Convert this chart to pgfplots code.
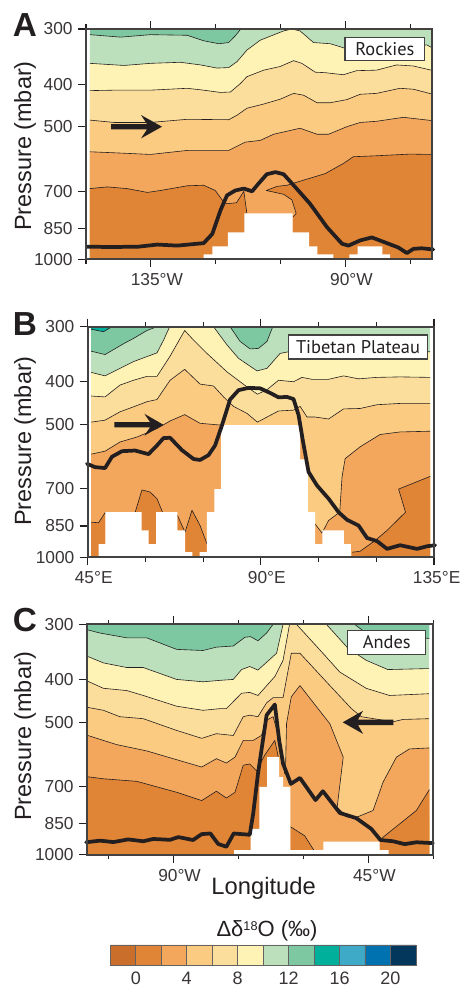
\documentclass[border=0pt]{standalone}
\usepackage{fontspec}
\setmainfont{Liberation Sans}
\newfontfamily\boxfont{PT Sans}
\usepackage{pgfplots}
\pgfplotsset{compat=1.18}
\definecolor{c0}{HTML}{C96E2B}\definecolor{c1}{HTML}{E08435}\definecolor{c2}{HTML}{F3A75D}
\definecolor{c3}{HTML}{FBCB81}\definecolor{c4}{HTML}{FCDE9C}\definecolor{c5}{HTML}{FEF3B5}
\definecolor{c6}{HTML}{BCE0BC}\definecolor{c7}{HTML}{7DC8A0}\definecolor{c8}{HTML}{00B09A}
\definecolor{c9}{HTML}{3FAAC8}\definecolor{c10}{HTML}{0072B0}\definecolor{c11}{HTML}{03375B}
\definecolor{ink}{HTML}{231F20}
\newcommand\band[3]{\addplot[fill=#1,draw=none] coordinates {#2 #3};\addplot[draw=ink,line width=0.45pt,line join=round] coordinates {#2};}
\newcommand\fillonly[2]{\addplot[fill=#1,draw=none] coordinates {#2};}
\newcommand\ticksize{\fontsize{13}{13}\selectfont}
\tikzset{
 thick line/.style={draw=ink,line width=2.8pt,line join=round,line cap=round},
 terrain/.style={fill=white,draw=none}}
\pgfplotsset{
 chartpanel/.style={
  scale only axis,y dir=reverse,ymin=300,ymax=1000,
  ytick={300,400,500,700,850,1000},yticklabels={300,400,500,700,850,1000},
  minor y tick num=0,
  ytick pos=left,xtick pos=both,xticklabel pos=bottom,
  tick align=outside,major tick length=6pt,minor tick length=3.4pt,
  major tick style={draw=ink,line width=0.8pt},
  minor tick style={draw=ink,line width=0.8pt},
  axis line style={draw=ink!85,line width=1.3pt},
  tick label style={font=\ticksize,text=ink!90},
  yticklabel style={xshift=-0.5pt},
  xticklabel style={xshift=4.5pt,yshift=-1pt},
  axis on top,clip=false},
}
\begin{document}
\begin{tikzpicture}
\path[use as bounding box] (0pt,0pt) rectangle (345.75pt,-739.5pt);
% ---------- A
\begin{semilogyaxis}[chartpanel,at={(64.5pt,-21.75pt)},anchor=north west,width=259.5pt,height=172.7pt,
 xmin=-150,xmax=-70,xtick={-135,-90},xticklabels={135°W,90°W},minor xtick={-150,-120,-105,-75}]
\fillonly{c7}{(-149.1,300)(-70.2,300)(-70.2,1000)(-149.1,1000)}
\band{c6}{(-149.1,309)(-142,313)(-135.1,309)(-126.6,310)(-122.8,319)(-119.3,324)(-117,322)(-115.5,311)(-114.2,300)}{(-70.2,300)(-70.2,1000)(-149.1,1000)}
\band{c5}{(-149.1,359)(-141.2,363)(-135.1,359)(-128.2,357)(-123.5,362)(-119.7,368)(-117,367)(-115.1,356)(-112.8,335)(-109.7,318)(-104.3,303)(-102.4,300)(-100.5,303)(-97.4,322)(-93.5,324)(-90,332)(-71.2,326)(-70.2,330)}{(-70.2,1000)(-149.1,1000)}
\band{c4}{(-149.1,414)(-143.5,413)(-135.1,413)(-126.6,409)(-122.8,413)(-118.9,418)(-116.6,417)(-114.3,399)(-112.8,385)(-108.9,372)(-105.1,365)(-102,354)(-100.1,359)(-97,376)(-94.7,377)(-90.5,381)(-87.4,373)(-82.8,372)(-78.2,362)(-74.3,364)(-70.2,372)}{(-70.2,1000)(-149.1,1000)}
\band{c3}{(-149.1,483)(-143.5,489)(-135.1,489)(-126.6,481)(-117,482)(-115.1,471)(-112.8,454)(-108.9,444)(-105.1,433)(-102,420)(-99.7,424)(-96.6,441)(-93.5,441)(-89.7,434)(-86.6,422)(-82.8,420)(-77.4,409)(-74.3,411)(-70.2,421)}{(-70.2,1000)(-149.1,1000)}
\band{c2}{(-149.1,570)(-143.5,573)(-135.1,578)(-126.6,566)(-117,566)(-113.2,542)(-109.7,537)(-106.6,520)(-100.5,504)(-96.6,520)(-93.9,520)(-89.7,500)(-86.6,489)(-82.8,486)(-76.6,476)(-70.2,484)}{(-70.2,1000)(-149.1,1000)}
\band{c1}{(-149.1,691)(-145.1,685)(-140.5,691)(-135.8,705)(-132.8,698)(-126.6,681)(-122.8,679)(-120.1,698)(-118.2,741)(-117.4,748)(-115.2,744)(-113.5,701)(-112.8,787)}{(-112.8,1000)(-149.1,1000)}
\band{c1}{(-102.2,802)(-101.4,787)(-102.4,733)(-104.3,712)(-108.3,698)(-105.8,683)(-103.5,679)(-101.2,668)(-94.7,639)(-90.5,606)(-88.2,585)(-82.8,582)(-75.1,577)(-70.2,578)}{(-70.2,1000)(-102.2,1000)}
\addplot[terrain] coordinates {(-122.8,1000)(-122.8,975)(-120.8,975)(-120.8,935)(-117.2,935)(-117.2,869)(-113.4,869)(-113.4,787)(-102.2,787)(-102.2,869)(-98.4,869)(-98.4,935)(-96.5,935)(-96.5,975)(-92.8,975)(-92.8,1000)};
\addplot[terrain] coordinates {(-89.1,1000)(-89.1,975)(-87.2,975)(-87.2,935)(-81.5,935)(-81.5,975)(-79.7,975)(-79.7,1000)};
\addplot[thick line] coordinates {(-149.8,936)(-144.3,938)(-137.8,936)(-133.5,926)(-128.9,931)(-122.8,919)(-120.8,876)(-118.9,774)(-117.4,716)(-115.5,698)(-113.5,691)(-111.6,701)(-110.1,673)(-108.2,641)(-106.2,634)(-104.3,641)(-102,679)(-98.2,748)(-94.3,845)(-90.8,922)(-89.3,931)(-86.6,906)(-83.9,892)(-81.2,913)(-77.8,940)(-75.8,968)(-74.3,947)(-72.4,944)(-69.7,950)};
\end{semilogyaxis}
% ---------- B
\begin{semilogyaxis}[chartpanel,at={(65.8pt,-245pt)},anchor=north west,width=259.7pt,height=172.8pt,
 xmin=45,xmax=135,xtick={45,90,135},xticklabels={45°E,90°E,\hspace*{-5pt}135°E},minor xtick={60,75,105,120}]
\fillonly{c6}{(45.9,300)(134,300)(134,1000)(45.9,1000)}
\fillonly{c7}{(45.9,300)(45.9,341)(49.5,347)(54.3,328)(56.9,319)(60.4,306)(63,300)}
\addplot[draw=ink,line width=0.45pt] coordinates {(45.9,341)(49.5,347)(54.3,328)(56.9,319)(60.4,306)(63,300)};
\band{c8}{(45.9,304)(49.1,308)(51.3,300)}{(45.9,300)}
\band{c7}{(82,300)(84.6,324)(87.2,337)(89.4,336)(91.6,324)(93.1,300)}{}
\band{c5}{(45.9,381)(49.5,388)(53.4,373)(56.9,360)(63,344)(64.7,322)(66.3,300)(77.7,300)(81.2,330)(84.2,354)(89,378)(91.6,373)(95,345)(97.2,342)(134,342)}{(134,1000)(45.9,1000)}
\band{c4}{(45.9,431)(49.5,433)(53.4,407)(56.9,397)(60.4,389)(63,389)(66.4,350)(70.2,306)(72.1,319)(76,345)(81.2,380)(86.4,411)(89.1,427)(91.6,417)(94.6,397)(98.5,400)(100.7,391)(103.3,395)(107.6,395)(111.5,388)(115.4,394)(120.2,391)(126.2,390)(134,391)}{(134,1000)(45.9,1000)}
\band{c3}{(45.9,494)(49.5,489)(53.4,468)(56.9,456)(60.4,444)(63,439)(66.4,397)(70.2,375)(74.2,405)(77.7,409)(80.3,433)(82.9,455)(86.4,472)(89.1,494)(91.6,481)(94.6,466)(98.5,464)(100.2,455)(102,481)(104.1,481)(107.6,486)(111.5,461)(115.8,460)(120.2,451)(126.2,448)(134,448)}{(134,1000)(45.9,1000)}
\band{c2}{(45.9,584)(49.5,575)(53.4,548)(57.8,534)(63,511)(66.4,491)(70.2,475)(74.2,497)(79.9,502)}{(79.9,1000)(45.9,1000)}
\fillonly{c2}{(100.1,525)(100.9,525)(101.2,600)(100.1,600)}
\band{c2}{(104.1,841)(105.9,882)(107.6,826)(110.5,791)(111.1,658)(111.9,598)(115.8,562)(121,527)(126.2,520)(134,518)}{(134,1000)(104.1,1000)}
\band{c1}{(45.9,833)(47.8,836)(49.6,791)}{(49.6,1000)(45.9,1000)}
\band{c1}{(57.3,793)(59.1,704)(61.2,712)(63,737)(64.5,793)}{(64.5,1000)(57.3,1000)}
\band{c1}{(68.3,804)(70.3,878)(72.1,783)(74.2,848)(76,933)}{(76,1000)(68.3,1000)}
\band{c1}{(113.7,975)(115.8,970)(119.7,917)(122.8,870)(127.6,791)(125.8,701)(134,656)}{(134,1000)(113.7,1000)}
\fillonly{c0}{(117.1,1000)(117.5,992)(119,992)(119.3,1000)}
\addplot[terrain] coordinates {(47.8,1000)(47.8,935)(49.6,935)(49.6,791)(59,791)(59,870)(60.8,870)(60.8,935)(62.8,935)(62.8,791)(68.3,791)(68.3,870)(70.3,870)(70.3,975)(72.2,975)(72.2,1000)};
\addplot[terrain] coordinates {(74.1,1000)(74.1,975)(76,975)(76,791)(77.9,791)(77.9,701)(79.7,701)(79.7,502)(100.2,502)(100.2,600)(102.2,600)(102.2,791)(104.1,791)(104.1,935)(106,935)(106,870)(111.6,870)(111.6,935)(113.4,935)(113.4,1000)};
\addplot[thick line] coordinates {(44.8,614)(46.9,625)(49.5,628)(51.3,592)(53.9,575)(57.3,573)(60.8,584)(63,558)(64.7,537)(66.4,536)(69.5,572)(72.5,599)(74.2,602)(76.4,587)(78.1,558)(79.9,502)(82,439)(84.2,418)(86.8,413)(89.8,414)(92.4,424)(94.6,434)(96.8,433)(98.5,438)(99.8,476)(100.9,543)(102.4,641)(104.6,688)(107.6,737)(110.2,791)(112.4,823)(115.4,848)(117.6,905)(120.2,920)(122.8,958)(126.2,940)(130.6,958)(133.2,945)(135.3,940)};
\end{semilogyaxis}
% ---------- C
\begin{semilogyaxis}[chartpanel,at={(65.25pt,-468.2pt)},anchor=north west,width=259.7pt,height=173pt,
 xmin=-110,xmax=-30,xtick={-90,-45},xticklabels={90°W,45°W},minor xtick={-105,-75,-60,-30}]
\fillonly{c6}{(-109.8,300)(-30.9,300)(-30.9,1000)(-109.8,1000)}
\band{c7}{(-109.8,309)(-107,314)(-100.8,322)(-96.2,322)(-89.3,342)(-83.2,344)(-80.1,338)(-76.2,336)(-73.5,321)(-72.2,320)(-70.5,327)(-68.5,314)(-67,300)}{(-109.8,300)}
\band{c7}{(-48.2,300)(-45.5,314)(-30.9,323)}{(-30.9,300)}
\band{c5}{(-109.8,355)(-106.2,367)(-100.8,376)(-97,376)(-89.3,400)(-83.2,405)(-79.3,402)(-76.2,400)(-74.3,380)(-72.4,374)(-70.5,381)(-66.2,349)(-64.7,300)(-54.7,300)(-49.7,340)(-45.5,362)(-40.5,380)(-31,378)}{(-30.9,1000)(-109.8,1000)}
\band{c4}{(-109.8,404)(-106.2,419)(-100.8,424)(-97,435)(-89.3,460)(-83.2,470)(-79.3,466)(-77.8,466)(-74.3,430)(-72.4,428)(-70.5,435)(-66.6,394)(-64.7,362)(-63.2,300)(-61.6,300)(-55.5,349)(-51.6,385)(-45.5,419)(-40.1,435)(-31,431)}{(-30.9,1000)(-109.8,1000)}
\band{c3}{(-109.8,463)(-106.2,470)(-102.4,486)(-97,491)(-89.3,522)(-83.5,544)(-80.1,531)(-76.2,536)(-73.9,486)(-72.4,482)(-70.5,486)(-68.5,452)(-67,440)(-64.7,440)(-62.8,349)(-60.8,349)(-54.7,405)(-48.9,466)(-46.6,486)(-39.3,499)(-37,493)(-31,491)}{(-30.9,1000)(-109.8,1000)}
\band{c2}{(-109.8,536)(-103.2,562)(-96.2,581)(-90.1,605)(-83.5,632)(-80.1,605)(-77.8,619)(-75.8,600)(-73.9,550)(-71.6,550)(-69.7,536)(-68.5,495)(-67,486)(-65.5,550)(-64.3,655)}{(-64.3,1000)(-109.8,1000)}
\band{c2}{(-64.3,655)(-64.1,621)(-63.9,504)(-62.8,438)(-60.8,413)(-57,461)(-53.9,504)(-50.8,600)(-52.2,779)(-50.1,819)(-48.2,825)(-43.9,793)(-41.6,684)(-38.5,600)(-35.5,575)(-30.9,572)}{(-30.9,1000)(-64.3,1000)}
\band{c1}{(-109.8,665)(-106.2,672)(-98.5,681)(-89.3,721)(-83.5,753)(-80.1,717)(-77.8,743)(-75.8,721)(-73.9,626)(-72.4,622)(-70.8,645)(-68.9,593)(-66.6,550)(-65.8,600)}{(-65.8,1000)(-109.8,1000)}
\band{c1}{(-63,863)(-59.7,905)(-57.6,975)}{(-57.6,1000)(-63,1000)}
\band{c1}{(-42.4,925)(-37.8,851)(-33.9,793)(-30.9,711)}{(-30.9,1000)(-42.4,1000)}
\addplot[terrain] coordinates {(-76,1000)(-76,975)(-72.2,975)(-72.2,873)(-70.2,873)(-70.2,701)(-68.4,701)(-68.4,600)(-65.6,600)(-65.6,666)(-64.7,666)(-64.7,701)(-63,701)(-63,975)(-55.4,975)(-55.4,933)(-42.4,933)(-42.4,975)(-40.3,975)(-40.3,1000)};
\addplot[thick line] coordinates {(-110.2,936)(-107,928)(-103.9,935)(-100.5,922)(-97,931)(-94.7,920)(-90.8,924)(-88.9,911)(-85.5,925)(-83.5,897)(-81.5,894)(-79.7,944)(-77.8,958)(-76.1,894)(-72.4,900)(-71.6,806)(-70.5,655)(-68.5,482)(-66.6,456)(-65.6,550)(-64.7,621)(-62.9,690)(-60.8,669)(-57.2,751)(-55.5,717)(-51.6,803)(-47.8,825)(-44.3,873)(-42.2,925)(-39.3,931)(-36.6,945)(-33.9,936)(-30.1,940)};
\end{semilogyaxis}
% ---------- colour bar
\begin{axis}[scale only axis,at={(82.75pt,-708.7pt)},anchor=north west,width=229.2pt,height=15.5pt,
 xmin=-2,xmax=22,ymin=0,ymax=1,ytick=\empty,xtick={0,4,8,12,16,20},xticklabels={0,4,8,12,16,20},
 xtick style={draw=none},axis line style={draw=none},clip=false,
 tick label style={font=\fontsize{13.5}{13.5}\selectfont,text=ink!90},
 xticklabel style={yshift=-1.5pt},axis on top]
\addplot[fill=c0,draw=ink!70,line width=.5pt] coordinates {(-2,0)(0,0)(0,1)(-2,1)(-2,0)};
\addplot[fill=c1,draw=ink!70,line width=.5pt] coordinates {(0,0)(2,0)(2,1)(0,1)(0,0)};
\addplot[fill=c2,draw=ink!70,line width=.5pt] coordinates {(2,0)(4,0)(4,1)(2,1)(2,0)};
\addplot[fill=c3,draw=ink!70,line width=.5pt] coordinates {(4,0)(6,0)(6,1)(4,1)(4,0)};
\addplot[fill=c4,draw=ink!70,line width=.5pt] coordinates {(6,0)(8,0)(8,1)(6,1)(6,0)};
\addplot[fill=c5,draw=ink!70,line width=.5pt] coordinates {(8,0)(10,0)(10,1)(8,1)(8,0)};
\addplot[fill=c6,draw=ink!70,line width=.5pt] coordinates {(10,0)(12,0)(12,1)(10,1)(10,0)};
\addplot[fill=c7,draw=ink!70,line width=.5pt] coordinates {(12,0)(14,0)(14,1)(12,1)(12,0)};
\addplot[fill=c8,draw=ink!70,line width=.5pt] coordinates {(14,0)(16,0)(16,1)(14,1)(14,0)};
\addplot[fill=c9,draw=ink!70,line width=.5pt] coordinates {(16,0)(18,0)(18,1)(16,1)(16,0)};
\addplot[fill=c10,draw=ink!70,line width=.5pt] coordinates {(18,0)(20,0)(20,1)(18,1)(18,0)};
\addplot[fill=c11,draw=ink!70,line width=.5pt] coordinates {(20,0)(22,0)(22,1)(20,1)(20,0)};
\end{axis}
% ---------- annotations, in reference pixels
\begin{scope}[x=0.75pt,y=-0.75pt,text=ink]
\foreach \yy/\ll/\py in {146/A/24.6,441/B/324,736/C/620}{
 \node[rotate=90,font=\fontsize{17.6}{18}\selectfont] at (25,\yy) {Pressure (mbar)};
 \node[font=\fontsize{25}{25}\selectfont\bfseries] at (25,\py) {\ll};
}
\node[font=\fontsize{17.8}{18}\selectfont] at (263.6,888.5) {Longitude};
\node[font=\fontsize{16.5}{17}\selectfont] at (267,931) {Δδ\raisebox{0.55ex}{\fontsize{9.5}{10}\selectfont 18}O (‰)};
% arrows
\fill[ink] (111,124) -- (147,124) -- (141,115) -- (162,126.7) -- (141,138.4) -- (147,129.4) -- (111,129.4) -- cycle;
\fill[ink] (114.3,422) -- (150,422) -- (144.3,413.7) -- (163.3,424.7) -- (144.3,435.7) -- (150,427.4) -- (114.3,427.4) -- cycle;
\fill[ink] (393.3,719.6) -- (358,719.6) -- (363,710.8) -- (342.7,722.3) -- (363,733.8) -- (358,725) -- (393.3,725) -- cycle;
% label boxes
\foreach \xa/\ya/\xb/\yb/\lbl in {345/37.3/424.7/60.7/Rockies,288.3/335/427.7/359/Tibetan Plateau,347.7/630.7/425.7/654.3/Andes}{
 \draw[fill=white,draw=ink!85,line width=.8pt] (\xa,\ya) rectangle (\xb,\yb);
 \node[font=\boxfont\fontsize{13.8}{14}\selectfont] at ({(\xa+\xb)/2},{(\ya+\yb)/2}) {\lbl};
}
\end{scope}
\end{tikzpicture}
\end{document}
